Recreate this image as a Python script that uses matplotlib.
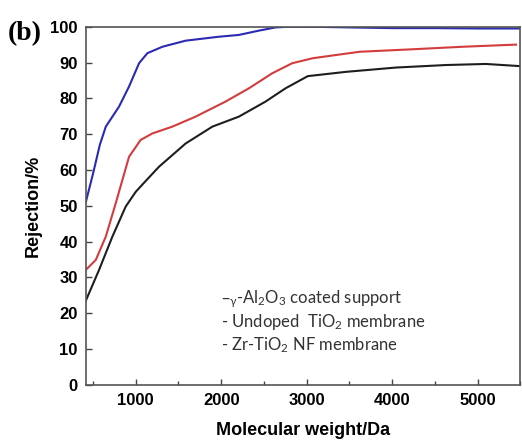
import matplotlib.pyplot as plt
from matplotlib.ticker import MultipleLocator

# Molecular weight (Da) and rejection (%)
mw_blue = [416, 502, 580, 650, 805, 922, 1039, 1136, 1312, 1584, 1973, 2207, 2440, 2636, 2800, 3000, 3500, 4000, 4500, 5000, 5490]
rej_blue = [51.0, 59.1, 67.0, 72.1, 77.7, 83.3, 89.8, 92.6, 94.4, 96.1, 97.2, 97.7, 98.9, 99.8, 100.0, 100.0, 99.8, 99.6, 99.6, 99.5, 99.5]

mw_red = [416, 533, 650, 766, 844, 922, 1058, 1195, 1428, 1701, 2051, 2324, 2597, 2830, 3071, 3617, 4240, 4824, 5448]
rej_red = [32.1, 34.9, 41.4, 50.7, 57.2, 63.7, 68.4, 70.2, 72.1, 74.9, 79.1, 82.8, 87.0, 89.8, 91.2, 93.0, 93.7, 94.4, 95.0]

mw_black = [416, 571, 727, 883, 1000, 1100, 1272, 1584, 1896, 2207, 2519, 2752, 3013, 3461, 4045, 4629, 5096, 5490]
rej_black = [23.5, 32.1, 41.4, 49.8, 53.9, 56.5, 60.9, 67.4, 72.1, 74.9, 79.1, 82.8, 86.2, 87.4, 88.6, 89.3, 89.6, 89.0]

legend_lines = [r"$\mathregular{–_{\gamma}}$-Al$\mathregular{_2}$O$\mathregular{_3}$ coated support",
                r"- Undoped  TiO$\mathregular{_2}$ membrane",
                r"- Zr-TiO$\mathregular{_2}$ NF membrane"]

fig = plt.figure(figsize=(5.22, 4.45), dpi=100)
ax = fig.add_axes([0.165, 0.135, 0.832, 0.805])

ax.plot(mw_blue, rej_blue, color='#2a2ab4', linewidth=1.5)
ax.plot(mw_red, rej_red, color='#d23c3c', linewidth=1.5)
ax.plot(mw_black, rej_black, color='#1e1e1e', linewidth=1.5)

ax.set_xlim(420, 5500)
ax.set_ylim(0, 100)
ax.xaxis.set_major_locator(MultipleLocator(1000))
ax.xaxis.set_minor_locator(MultipleLocator(500))
ax.yaxis.set_major_locator(MultipleLocator(10))
ax.tick_params(axis='both', which='both', direction='in', length=4, width=1, color='#444', pad=6)
ax.tick_params(axis='x', which='minor', length=3)
for lab in ax.get_xticklabels() + ax.get_yticklabels():
    lab.set_fontfamily('Liberation Sans')
    lab.set_fontweight('bold')
    lab.set_fontsize(12)
for sp in ax.spines.values():
    sp.set_color('#555555')
    sp.set_linewidth(1.2)

ax.set_xlabel('Molecular weight/Da', fontfamily='Liberation Sans', fontweight='bold', fontsize=13, labelpad=10)
ax.set_ylabel('Rejection/%', fontfamily='Liberation Sans', fontweight='bold', fontsize=13, labelpad=6)

# Legend as plain text lines
for i, txt in enumerate(legend_lines):
    ax.text(0.31, 0.24 - i * 0.064, txt, transform=ax.transAxes, fontfamily='Lato',
            fontsize=12, color='#333333', va='center', ha='left')

fig.text(0.015, 0.91, '(b)', fontfamily='Liberation Serif', fontweight='bold', fontsize=20)

fig.savefig('out.png', dpi=100)
